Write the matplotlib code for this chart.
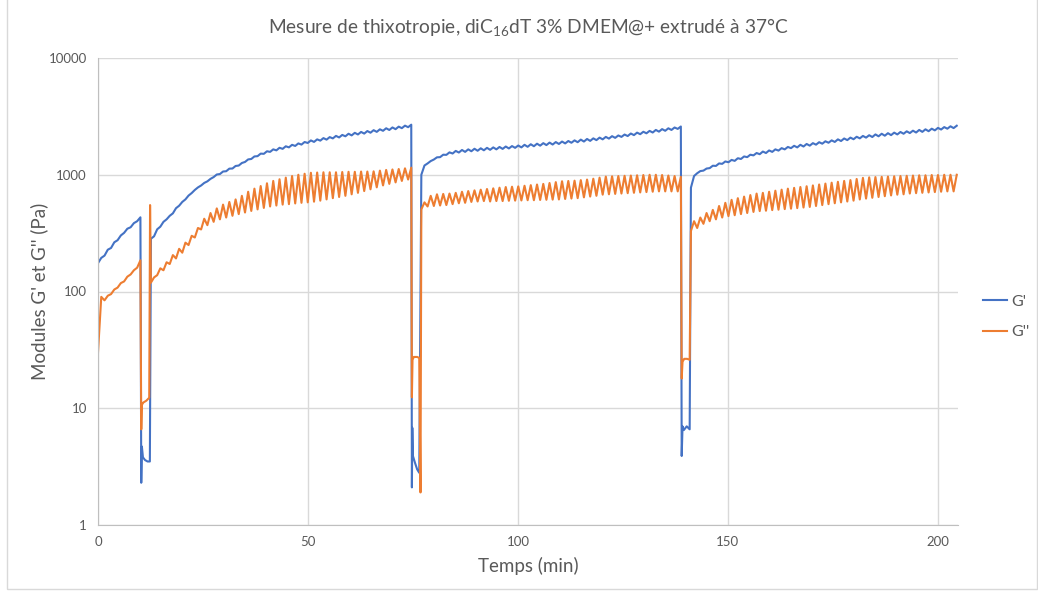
import numpy as np
import matplotlib
matplotlib.use("Agg")
import matplotlib.pyplot as plt
from matplotlib.patches import Rectangle

plt.rcParams['font.family'] = ['Lato', 'DejaVu Sans']
plt.rcParams['mathtext.default'] = 'regular'

# ---- data (time in min, moduli in Pa) ----
# each rest segment: values alternate trough / peak, on the rheometer's regular time grid
seg_t = [(0.0, 10.1), (12.6, 74.6), (77.0, 138.8), (141.2, 204.5)]

# G' (storage modulus)
gp_low = [
    [175, 203, 236, 275, 318, 355, 400],
    [283, 341, 395, 445, 517, 585, 663, 741, 809, 878, 955, 1014, 1072, 1131, 1199, 1287,
     1365, 1443, 1511, 1570, 1618, 1667, 1716, 1765, 1813, 1872, 1911, 1960, 1999, 2048,
     2087, 2135, 2174, 2213, 2252, 2291, 2330, 2379, 2418, 2457, 2506, 2555],
    [1000, 1250, 1350, 1415, 1480, 1520, 1550, 1570, 1590, 1605, 1620, 1635, 1650, 1665,
     1680, 1700, 1715, 1735, 1755, 1775, 1795, 1815, 1835, 1855, 1880, 1900, 1925, 1950,
     1980, 2010, 2040, 2070, 2110, 2145, 2185, 2225, 2265, 2300, 2340, 2380, 2420, 2470],
    [775, 1030, 1085, 1140, 1190, 1240, 1280, 1315, 1365, 1415, 1465, 1500, 1535, 1570,
     1610, 1650, 1690, 1715, 1745, 1775, 1810, 1845, 1880, 1910, 1945, 1980, 2015, 2050,
     2080, 2105, 2135, 2160, 2185, 2215, 2245, 2275, 2300, 2330, 2360, 2400, 2440, 2480, 2510],
]
gp_high = [
    [194, 228, 264, 302, 345, 385, 432],
    [297, 359, 415, 467, 543, 615, 697, 779, 851, 922, 1005, 1066, 1128, 1189, 1261, 1353,
     1435, 1517, 1589, 1650, 1702, 1753, 1804, 1855, 1907, 1968, 2009, 2060, 2101, 2152,
     2193, 2245, 2286, 2327, 2368, 2409, 2450, 2501, 2542, 2583, 2634, 2685],
    [1200, 1310, 1410, 1485, 1555, 1600, 1630, 1650, 1670, 1685, 1700, 1715, 1730, 1745,
     1760, 1780, 1805, 1825, 1845, 1865, 1885, 1905, 1925, 1945, 1970, 2000, 2025, 2050,
     2080, 2110, 2140, 2170, 2210, 2255, 2295, 2335, 2375, 2420, 2460, 2500, 2540, 2590],
    [975, 1075, 1130, 1195, 1250, 1300, 1340, 1385, 1435, 1485, 1535, 1580, 1615, 1650,
     1690, 1730, 1770, 1805, 1835, 1865, 1900, 1935, 1970, 2010, 2045, 2080, 2115, 2150,
     2180, 2215, 2245, 2270, 2295, 2325, 2355, 2385, 2420, 2450, 2480, 2520, 2560, 2600, 2630],
]

# G'' (loss modulus)
gpp_low = [
    [30, 84, 95, 108, 122, 140, 160],
    [119, 138, 152, 172, 192, 215, 250, 290, 340, 370, 395, 415, 430, 445, 460, 475, 490,
     505, 520, 535, 545, 555, 560, 568, 575, 580, 588, 600, 615, 630, 645, 660, 680, 700,
     725, 750, 780, 810, 835, 860, 885, 910],
    [505, 535, 540, 545, 550, 560, 570, 575, 585, 590, 595, 590, 595, 595, 598, 600, 602,
     605, 605, 608, 610, 612, 614, 620, 625, 630, 640, 650, 660, 675, 680, 685, 690, 695,
     700, 705, 710, 715, 720, 720, 720, 720],
    [330, 350, 380, 400, 415, 430, 442, 450, 460, 470, 480, 488, 492, 498, 502, 508, 512,
     518, 524, 530, 540, 550, 560, 570, 580, 590, 600, 614, 625, 635, 645, 655, 665, 675,
     680, 690, 695, 700, 705, 710, 715, 720, 720],
]
gpp_high = [
    [90, 92, 104, 118, 134, 152, 185],
    [132, 158, 178, 205, 232, 262, 300, 350, 420, 470, 515, 555, 585, 615, 660, 715, 760,
     800, 845, 885, 915, 945, 975, 1000, 1020, 1040, 1045, 1050, 1050, 1050, 1055, 1060,
     1060, 1065, 1065, 1070, 1085, 1100, 1110, 1120, 1135, 1150],
    [580, 660, 680, 685, 690, 700, 715, 725, 735, 745, 755, 765, 775, 785, 790, 795, 805,
     815, 825, 835, 850, 865, 880, 885, 890, 900, 910, 925, 945, 965, 970, 975, 980, 985,
     990, 995, 1000, 1000, 995, 985, 975, 960],
    [400, 430, 470, 500, 540, 575, 610, 630, 650, 670, 690, 700, 715, 730, 745, 760, 772,
     785, 797, 810, 825, 840, 855, 870, 885, 900, 920, 940, 950, 955, 960, 965, 970, 975,
     980, 985, 990, 990, 995, 995, 1000, 1000, 1000],
]

# shear (destructuring) steps between the rest segments
gap_t_gp = [[10.3, 10.45, 10.7, 11.2, 11.8, 12.35],
            [74.75, 74.85, 75.0, 75.5, 76.0, 76.5],
            [139.0, 139.2, 139.5, 140.2, 140.9]]
gap_gp = [[2.3, 4.7, 3.8, 3.6, 3.5, 3.5],
          [2.1, 6.8, 3.9, 3.4, 3.0, 2.8],
          [3.9, 7.0, 6.5, 7.0, 6.6]]
gap_t_gpp = [[10.3, 10.45, 10.8, 11.5, 12.2, 12.4],
             [74.75, 74.9, 75.2, 76.0, 76.5, 76.8],
             [139.0, 139.2, 139.6, 140.3, 140.9]]
gap_gpp = [[6.6, 10.7, 11.2, 11.6, 12.3, 550],
           [12.4, 26, 27.5, 27.5, 27, 1.9],
           [18, 25, 26.5, 26.5, 26]]


def build(lows, highs, gap_t, gap_v):
    tt, vv = [], []
    for i, (t0, t1) in enumerate(seg_t):
        v = np.column_stack([lows[i], highs[i]]).ravel()
        tt.append(np.linspace(t0, t1, len(v)))
        vv.append(v)
        if i < len(gap_t):
            tt.append(np.array(gap_t[i]))
            vv.append(np.array(gap_v[i]))
    return np.concatenate(tt), np.concatenate(vv)


t1, gp = build(gp_low, gp_high, gap_t_gp, gap_gp)
t2, gpp = build(gpp_low, gpp_high, gap_t_gpp, gap_gpp)

fig = plt.figure(figsize=(10.38, 5.92), dpi=100)
ax = fig.add_axes([98 / 1038, 1 - 525 / 592, 860 / 1038, 467 / 592])

ax.plot(t1, gp, color='#4472C4', lw=1.5, label="G'")
ax.plot(t2, gpp, color='#ED7D31', lw=1.5, label="G''")

ax.set_yscale('log')
ax.set_ylim(1, 10000)
ax.set_xlim(0, 204.8)
ax.set_yticks([1, 10, 100, 1000, 10000])
ax.set_yticklabels(['1', '10', '100', '1000', '10000'])
ax.yaxis.set_minor_locator(matplotlib.ticker.NullLocator())
ax.set_xticks([0, 50, 100, 150, 200])

ax.grid(True, color='#D9D9D9', lw=1)
ax.set_axisbelow(True)
for s in ['top', 'right']:
    ax.spines[s].set_visible(False)
for s in ['left', 'bottom']:
    ax.spines[s].set_color('#BFBFBF')
ax.tick_params(length=0, labelsize=9.5, colors='#595959', pad=8)

ax.set_xlabel('Temps (min)', fontsize=13.5, color='#595959', labelpad=6)
ax.set_ylabel("Modules G' et G'' (Pa)", fontsize=13.5, color='#595959', labelpad=0)
ax.yaxis.set_label_coords(-0.058, 0.5)
ax.set_title("Mesure de thixotropie, diC$_{16}$dT 3% DMEM@+ extrudé à 37°C",
             fontsize=13.8, color='#595959', pad=18)

fig.legend(loc='center left', bbox_to_anchor=(983 / 1038, 1 - 317 / 592), frameon=False,
           fontsize=11.5, handlelength=1.5, handletextpad=0.3, borderpad=0,
           borderaxespad=0, labelspacing=1.0, labelcolor='#595959')

fig.patches.append(Rectangle((7 / 1038, 3 / 592), 1 - 8 / 1038, 1.2, transform=fig.transFigure,
                             fill=False, edgecolor='#D9D9D9', lw=1))

fig.savefig('out.png', dpi=100)
